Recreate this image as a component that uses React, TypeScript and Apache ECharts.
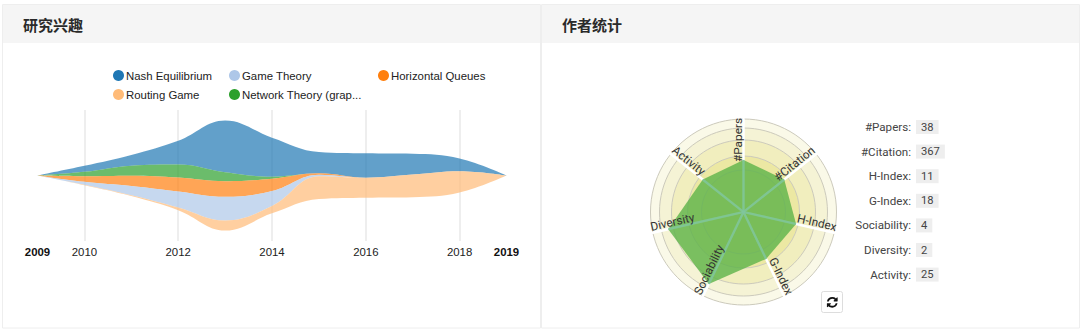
import React, { useEffect, useRef } from "react";
import * as echarts from "echarts";

const years = [2009, 2010, 2011, 2012, 2013, 2014, 2015, 2016, 2017, 2018, 2019];
const nash = [0, 18, 32, 71, 155, 117, 64, 73, 62, 38, 0];
const network = [0, 13, 30, 39, 27, 6, 0, 0, 0, 0, 0];
const queues = [0, 17, 31, 42, 47, 37, 4, 0, 0, 0, 0];
const gameTheory = [0, 9, 28, 48, 71, 45, 5, 0, 0, 0, 0];
const routing = [0, 1, 2, 8, 30, 22, 68, 60, 68, 64, 0];
const lineYears = [2010, 2012, 2014, 2016, 2018];
const labelYears = [2009, 2010, 2012, 2014, 2016, 2018, 2019];
const radarNames = ["#Papers", "#Citation", "H-Index", "G-Index", "Sociability", "Diversity", "Activity"];
const radarScores = [56, 56, 58, 56, 86, 83, 56];
const statValues = ["38", "367", "11", "18", "4", "2", "25"];

const NASH = "Nash Equilibrium";
const GAME = "Game Theory";
const QUEUE = "Horizontal Queues";
const ROUTE = "Routing Game";
const NET = "Network Theory (grap...";

const REFRESH =
  "M1639 1056q0 5-1 7-64 268-268 434.5t-478 166.5q-146 0-282.5-55t-243.5-157l-129 129q-19 19-45 19t-45-19-19-45v-448q0-26 19-45t45-19h448q26 0 45 19t19 45-19 45l-137 137q71 66 161 102t187 36q134 0 250-65t186-179q11-17 53-117 8-23 30-23h192q13 0 22.5 9.5t9.5 22.5zm25-800v448q0 26-19 45t-45 19h-448q-26 0-45-19t-19-45 19-45l138-138q-148-137-349-137-134 0-250 65t-186 179q-11 17-53 117-8 23-30 23h-199q-13 0-22.5-9.5t-9.5-22.5v-7q65-268 270-434.5t480-166.5q146 0 284 55.5t245 156.5l130-129q19-19 45-19t45 19 19 45z";
echarts.graphic.registerShape("refreshIcon", echarts.graphic.extendPath(REFRESH, {}) as any);

const CX = 743.5;
const CY = 212;
const R = 93;
const FONT = "Roboto, sans-serif";
const ARIAL = "Arial, 'Liberation Sans', sans-serif";

function riverRows() {
  const rows: any[] = [];
  const add = (vals: number[], name: string) =>
    vals.forEach((v, i) => rows.push([years[i], v, name]));
  add(nash, NASH);
  add(network, NET);
  add(queues, QUEUE);
  add(gameTheory, GAME);
  add(routing, ROUTE);
  return rows;
}

function radarLabels() {
  return radarNames.map((name, i) => {
    const theta = (i * 2 * Math.PI) / radarNames.length;
    const sx = Math.sin(theta);
    const sy = -Math.cos(theta);
    const rightSide = i <= 3 && i > 0;
    const x = CX + sx * (R + 1);
    const y = CY + sy * (R + 1);
    let rot;
    if (i === 0) rot = Math.PI / 2;
    else if (rightSide) rot = -Math.atan2(sy, sx);
    else rot = -Math.atan2(-sy, -sx);
    return {
      type: "text",
      z: 50,
      x,
      y,
      rotation: rot,
      style: {
        text: name,
        fill: "#333",
        font: `11.8px ${FONT}`,
        align: i === 0 || rightSide ? "right" : "left",
        verticalAlign: "bottom",
      },
    };
  });
}

function radarSpokes() {
  return radarScores.map((s, i) => {
    const theta = (i * 2 * Math.PI) / radarScores.length;
    const r = (s / 100) * R;
    return {
      type: "line",
      z: 40,
      shape: { x1: CX, y1: CY, x2: CX + Math.sin(theta) * r, y2: CY - Math.cos(theta) * r },
      style: { stroke: "rgba(128,198,160,0.75)", lineWidth: 2.2 },
    };
  });
}

function statRows() {
  const out: any[] = [];
  radarNames.forEach((name, i) => {
    const y = 127 + i * 24.6;
    out.push({
      type: "text",
      x: 911,
      y,
      style: { text: `${name}:`, fill: "#444", font: `11.6px ${FONT}`, align: "right", verticalAlign: "middle" },
    });
    out.push({
      type: "text",
      x: 916,
      y,
      style: {
        text: statValues[i],
        fill: "#444",
        font: `11.2px ${FONT}`,
        align: "left",
        verticalAlign: "middle",
        backgroundColor: "#eeeeee",
        padding: [2, 5, 1, 5],
      },
    });
  });
  return out;
}

function ringCircles() {
  const rings = [
    { r: 93, fill: "#faf9e8" },
    { r: 84, fill: "#f5f3d5" },
    { r: 72, fill: "#f1eebe" },
    { r: 56, fill: "#ece8a3" },
    { r: 42, fill: "#e9e49a" },
  ];
  return rings.map((g) => ({
    type: "circle",
    z: 0,
    shape: { cx: CX, cy: CY, r: g.r },
    style: { fill: g.fill, stroke: "#cccabc", lineWidth: 1 },
  }));
}

function panel(x: number, w: number, title: string) {
  return [
    { type: "rect", z: -5, shape: { x: x + 0.5, y: 4.5, width: w, height: 323.5 }, style: { fill: "#fff", stroke: "#eeeeee", lineWidth: 1 } },
    { type: "rect", z: -4, shape: { x: x + 1, y: 5, width: w - 1, height: 38 }, style: { fill: "#f5f5f5" } },
    {
      type: "text",
      z: -3,
      x: x + 21,
      y: 24.5,
      style: { text: title, fill: "#2a2a2a", font: "bold 15px 'Noto Sans CJK SC', sans-serif", verticalAlign: "middle" },
    },
  ];
}

export default function App() {
  const ref = useRef<HTMLDivElement>(null);
  useEffect(() => {
    document.body.style.margin = "0";
    const chart = echarts.init(ref.current!, undefined, { renderer: "svg" });
    const legendBase = {
      orient: "vertical",
      top: 65,
      icon: "circle",
      itemWidth: 11,
      itemHeight: 11,
      itemGap: 8,
      itemStyle: { opacity: 1 },
      textStyle: { fontSize: 11.4, color: "#222", fontFamily: ARIAL, padding: [0, 0, 0, -3] },
    };
    chart.setOption({
      animation: false,
      color: ["#1f77b4", "#2ca02c", "#ff7f0e", "#aec7e8", "#ffbb78"],
      legend: [
        { ...legendBase, left: 108, data: [NASH, ROUTE] },
        { ...legendBase, left: 224, data: [GAME, NET] },
        { ...legendBase, left: 373, data: [QUEUE] },
      ],
      singleAxis: {
        type: "value",
        left: 37.5,
        width: 469,
        top: 110,
        height: 131,
        min: 2009,
        max: 2019,
        interval: 1,
        axisLine: { show: false },
        axisTick: { show: false, customValues: lineYears },
        axisPointer: { show: false },
        splitLine: { show: true, lineStyle: { type: "solid", opacity: 0.45, color: "#cccccc", width: 1.5 } },
        axisLabel: {
          customValues: labelYears,
          margin: 5,
          fontFamily: ARIAL,
          fontSize: 11.4,
          color: "#222",
          hideOverlap: false,
          formatter: (v: number) => (v === 2009 || v === 2019 ? `{b|${v}}` : String(v)),
          rich: { b: { fontWeight: "bold", fontSize: 11.4, color: "#111", fontFamily: ARIAL } },
        },
      },
      radar: {
        center: [CX, CY],
        radius: R,
        startAngle: 90,
        indicator: [radarNames[0], ...radarNames.slice(1).reverse()].map((name) => ({ name, max: 100, min: 0 })),
        axisName: { show: false },
        splitNumber: 5,
        splitLine: { show: false },
        splitArea: { show: false },
        axisLine: { lineStyle: { color: "#ffffff", width: 2.5 } },
        axisTick: { show: false },
        axisLabel: { show: false },
      },
      series: [
        {
          type: "themeRiver",
          singleAxisIndex: 0,
          boundaryGap: ["8%", "8%"],
          label: { show: false },
          emphasis: { disabled: true },
          itemStyle: { opacity: 0.7 },
          data: riverRows(),
        },
        {
          type: "radar",
          symbol: "none",
          lineStyle: { width: 0 },
          areaStyle: { color: "#5cb349", opacity: 0.8 },
          data: [{ value: [radarScores[0], ...radarScores.slice(1).reverse()] }],
        },
      ],
      graphic: [
        ...panel(2, 538, "研究兴趣"),
        ...panel(541, 538, "作者统计"),
        ...ringCircles(),
        ...radarSpokes(),
        ...radarLabels(),
        ...statRows(),
        {
          type: "rect",
          shape: { x: 821.5, y: 291.5, width: 21, height: 21, r: 2 },
          style: { fill: "#fff", stroke: "#dddddd", lineWidth: 1 },
        },
        {
          type: "refreshIcon",
          x: 826,
          y: 296,
          scaleX: 12 / 1792,
          scaleY: 12 / 1792,
          style: { fill: "#111" },
        },
      ],
    });
    return () => chart.dispose();
  }, []);
  return <div ref={ref} style={{ width: 1080, height: 329 }} />;
}
